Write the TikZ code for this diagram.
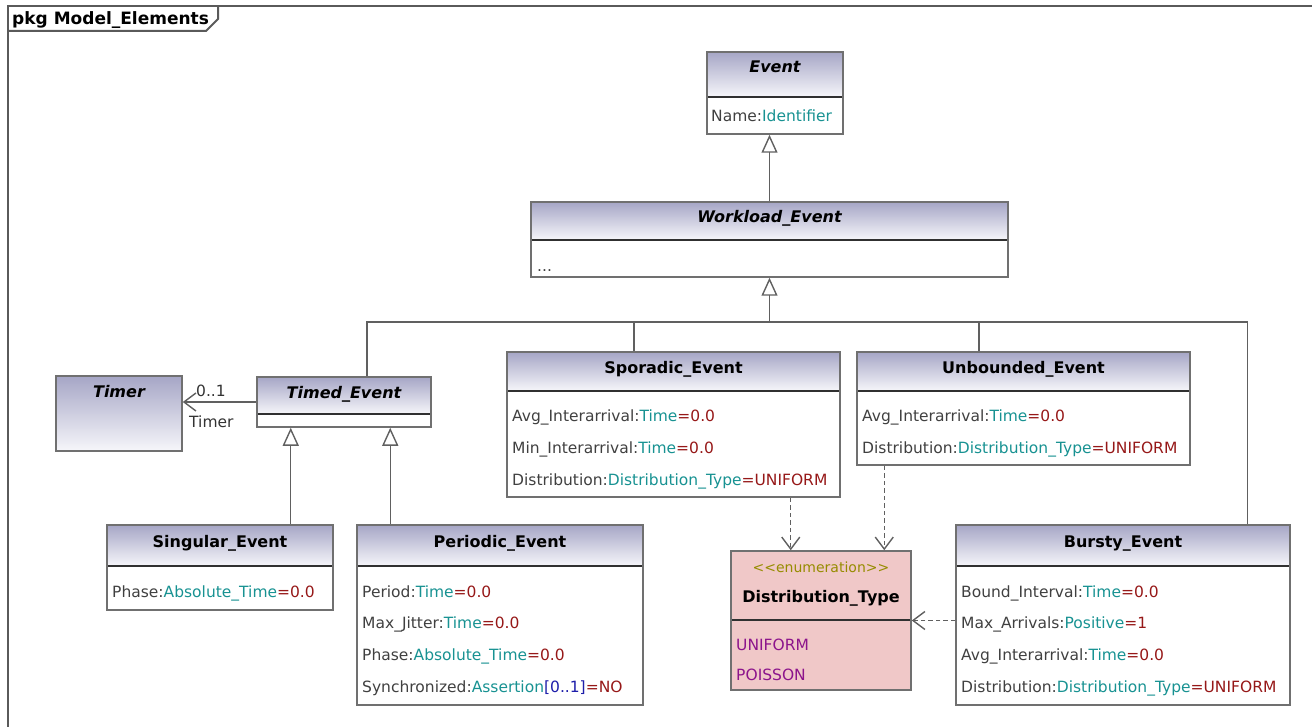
\documentclass[tikz,border=0pt]{standalone}
\usepackage{fontspec}
\setmainfont{DejaVu Sans}
\usetikzlibrary{arrows.meta,fit,positioning}

\definecolor{hdtop}{RGB}{166,166,198}
\definecolor{hdbot}{RGB}{246,246,250}
\definecolor{boxgray}{RGB}{112,112,112}
\definecolor{divdark}{RGB}{48,48,48}
\definecolor{namegray}{RGB}{64,64,64}
\definecolor{typeteal}{RGB}{24,146,146}
\definecolor{valred}{RGB}{150,24,24}
\definecolor{multblue}{RGB}{30,30,170}
\definecolor{stereo}{RGB}{150,140,0}
\definecolor{litpurple}{RGB}{140,20,140}
\definecolor{enumpink}{RGB}{240,200,200}
\definecolor{wirecol}{RGB}{96,96,96}

% attribute: name, type, default value
\newcommand\attr[3]{\textcolor{namegray}{#1:}\textcolor{typeteal}{#2}\textcolor{valred}{=#3}}
% class box: name, left, top, right, bottom, divider
\newcommand\umlclass[6]{%
  \shade[top color=hdtop,bottom color=hdbot] (#2,#3) rectangle (#4,#6);
  \draw[divline] (#2,#6) -- (#4,#6);
  \node[classbox,fit={(#2,#3)(#4,#5)}] (#1) {};}

\begin{document}
\begin{tikzpicture}[x=1pt,y=-1pt,
  classbox/.style={draw=boxgray,line width=1.5pt,inner sep=0pt},
  divline/.style={draw=divdark,line width=1.5pt},
  classname/.style={anchor=base,inner sep=0pt,font=\bfseries\fontsize{16}{18}\selectfont},
  abstractname/.style={classname,font=\bfseries\itshape\fontsize{16}{18}\selectfont},
  attrline/.style={anchor=base west,inner sep=0pt,text=namegray,font=\fontsize{15.5}{18}\selectfont},
  wire/.style={draw=wirecol,line width=1.4pt},
  gen/.style={wire,-{Triangle[open,length=18pt,width=16pt]}},
  dep/.style={wire,dash pattern=on 4.5pt off 3pt,-{Straight Barb[length=12pt,width=18pt]}},
  nav/.style={wire,-{Straight Barb[length=12pt,width=18pt]}},
  framepen/.style={draw=boxgray!80!black,line width=2pt}]
\useasboundingbox (0,0) rectangle (1312,727);

% package frame
\draw[framepen] (8,727) -- (8,6) -- (1312,6);
\draw[framepen] (8,31) -- (206,31) -- (218,19) -- (218,6);
\node[anchor=base west,inner sep=0pt,font=\bfseries\fontsize{17}{19}\selectfont] (pkg) at (12,25) {pkg Model\_Elements};

% classes
\umlclass{event}{707}{52}{843}{134}{97}
\node[abstractname] (eventname) at (775,73) {Event};
\node[attrline] (eventattr) at (711,122) {Name:\textcolor{typeteal}{Identifier}};

\umlclass{workload}{531}{202}{1008}{277}{240}
\node[abstractname] (workloadname) at (769.5,223) {Workload\_Event};
\node[attrline] (workloadattr) at (537,272) {...};

\umlclass{timer}{56}{376}{182}{451}{451}
\node[abstractname] (timername) at (119,397) {Timer};

\umlclass{timed}{257}{377}{431}{427}{414}
\node[abstractname] (timedname) at (344,398) {Timed\_Event};

\umlclass{sporadic}{507}{352}{840}{497}{391}
\node[classname] (sporadicname) at (673.5,373) {Sporadic\_Event};
\node[attrline] at (512,421) {\attr{Avg\_Interarrival}{Time}{0.0}};
\node[attrline] at (512,453) {\attr{Min\_Interarrival}{Time}{0.0}};
\node[attrline] at (512,485) {\attr{Distribution}{Distribution\_Type}{UNIFORM}};

\umlclass{unbounded}{857}{352}{1190}{465}{391}
\node[classname] (unboundedname) at (1023.5,373) {Unbounded\_Event};
\node[attrline] at (862,421) {\attr{Avg\_Interarrival}{Time}{0.0}};
\node[attrline] at (862,453) {\attr{Distribution}{Distribution\_Type}{UNIFORM}};

\umlclass{singular}{107}{525}{333}{610}{566}
\node[classname] (singularname) at (220,547) {Singular\_Event};
\node[attrline] at (112,597) {\attr{Phase}{Absolute\_Time}{0.0}};

\umlclass{periodic}{357}{525}{643}{705}{566}
\node[classname] (periodicname) at (500,547) {Periodic\_Event};
\node[attrline] at (362,597) {\attr{Period}{Time}{0.0}};
\node[attrline] at (362,628) {\attr{Max\_Jitter}{Time}{0.0}};
\node[attrline] at (362,660) {\attr{Phase}{Absolute\_Time}{0.0}};
\node[attrline] at (362,692) {Synchronized:\textcolor{typeteal}{Assertion}\textcolor{multblue}{[0..1]}\textcolor{valred}{=NO}};

\umlclass{bursty}{956}{525}{1290}{705}{566}
\node[classname] (burstyname) at (1123,547) {Bursty\_Event};
\node[attrline] at (961,597) {\attr{Bound\_Interval}{Time}{0.0}};
\node[attrline] at (961,628) {\attr{Max\_Arrivals}{Positive}{1}};
\node[attrline] at (961,660) {\attr{Avg\_Interarrival}{Time}{0.0}};
\node[attrline] at (961,692) {\attr{Distribution}{Distribution\_Type}{UNIFORM}};

% enumeration
\fill[enumpink] (731,551) rectangle (911,690);
\draw[divline] (731,620) -- (911,620);
\node[classbox,fit={(731,551)(911,690)}] (dist) {};
\node[anchor=base,inner sep=0pt,text=stereo,font=\fontsize{14}{16}\selectfont] (diststereo) at (821,572) {{<}\kern0pt{<}enumeration{>}\kern0pt{>}};
\node[classname] (distname) at (821,602) {Distribution\_Type};
\node[attrline,text=litpurple] (distuniform) at (736,650) {UNIFORM};
\node[attrline,text=litpurple] (distpoisson) at (736,680) {POISSON};

% generalisations
\coordinate (bus) at (769.5,322);
\draw[gen] (workload.north) -- (workload.north |- event.south);
\draw[gen] (bus) -- (workload.south);
\draw[wire] ([xshift=23pt]timed.north) |- (bus);
\draw[wire] ([xshift=-39.5pt]sporadic.north) |- (bus);
\draw[wire] ([xshift=-44.5pt]unbounded.north) |- (bus);
\draw[wire] ([xshift=-43pt]bursty.north east) |- (bus);
\draw[gen] ([xshift=-43pt]singular.north east) -- ([xshift=-43pt]singular.north east |- timed.south);
\draw[gen] ([xshift=34pt]periodic.north west) -- ([xshift=34pt]periodic.north west |- timed.south);

% association
\draw[nav] (timed.west) -- (timed.west -| timer.east);
\node[attrline,text=black!80] (multzero) at (196,396) {0..1};
\node[attrline,text=black!80] (multrole) at (189,427) {Timer};

% dependencies
\draw[dep] ([xshift=-50pt]sporadic.south east) -- ([xshift=-50pt]sporadic.south east |- dist.north);
\draw[dep] ([xshift=28pt]unbounded.south west) -- ([xshift=28pt]unbounded.south west |- dist.north);
\draw[dep] (dist.east -| bursty.west) -- (dist.east);
\end{tikzpicture}
\end{document}
